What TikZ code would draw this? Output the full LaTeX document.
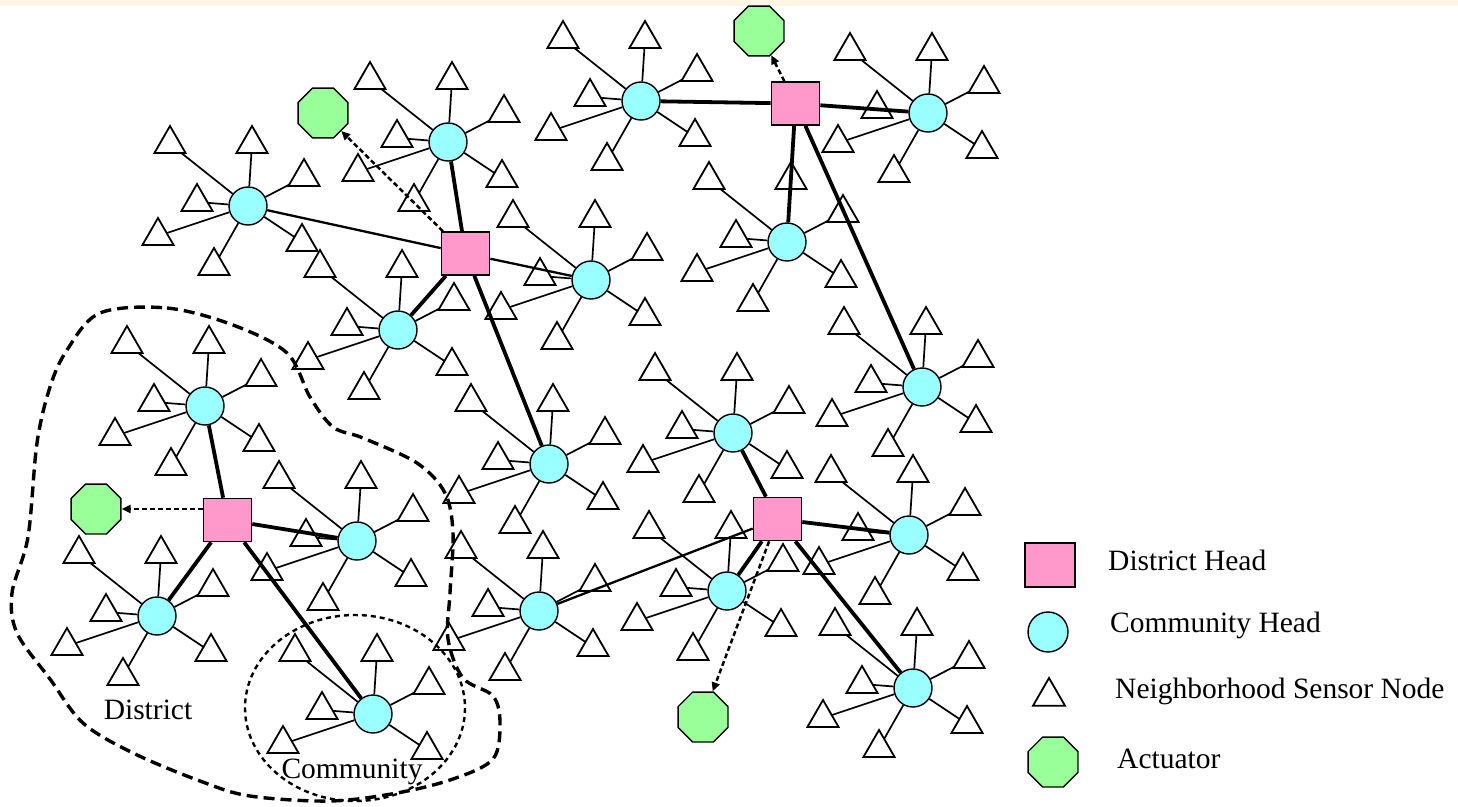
\documentclass[tikz,border=0pt]{standalone}
\usepackage{fontspec}
\setmainfont{Liberation Serif}
\usetikzlibrary{shapes.geometric,arrows.meta,calc}
\definecolor{dhfill}{RGB}{255,153,204}
\definecolor{chfill}{RGB}{153,255,255}
\definecolor{acfill}{RGB}{153,255,153}
\definecolor{bandcol}{RGB}{255,246,229}
\tikzset{
 sensor/.style={regular polygon, regular polygon sides=3, minimum size=36pt, inner sep=0pt, outer sep=0pt, draw, line width=1.8pt},
 chead/.style={circle, minimum size=38pt, inner sep=0pt, draw, line width=1.4pt, fill=chfill},
 dhead/.style={rectangle, minimum width=48pt, minimum height=43pt, inner sep=0pt, draw, line width=1.6pt, fill=dhfill},
 actu/.style={regular polygon, regular polygon sides=8, minimum size=54pt, inner sep=0pt, draw, line width=1.4pt, fill=acfill},
 slink/.style={line width=1.7pt},
 thicklink/.style={line width=3.8pt},
 medlink/.style={line width=2.3pt},
 actlink/.style={line width=2.5pt, dash pattern=on 5pt off 3pt, -{Triangle[length=9pt,width=8pt]}},
 lab/.style={font=\fontsize{29.5}{32}\selectfont, inner sep=0pt},
}
\def\fullpat{a/-78/-66,b/4/-66,c/56/-33,d/-51/-8,e/-90/26,f/-34/56,g/54/32}
\def\partpat{a/-78/-66,b/4/-66,c/56/-33,d/-51/-8,e/-90/26,g/54/32}
\newcommand{\mkcomm}[4]{%
  \node[chead] (#1) at (#2,#3) {};
  \foreach \sk/\sx/\sy in #4 {
    \node[sensor] (#1\sk) at ({#2+(\sx)},{#3+(\sy)+4}) {};
    \draw[slink] (#1) -- (#1\sk);
  }
}
\begin{document}
\begin{tikzpicture}[x=1pt,y=-1pt]
\fill[white] (0,0) rectangle (1458,806);
\useasboundingbox (0,0) rectangle (1458,806);
\fill[bandcol] (0,0) rectangle (1458,6);

% district boundary
\draw[line width=3.4pt, dash pattern=on 11pt off 6pt] plot[smooth cycle, tension=0.55] coordinates {
 (100,313) (167,308) (233,325) (287,353) (310,397) (333,427) (363,438) (417,463)
 (445,493) (453,533) (450,593) (448,639) (463,678) (493,696) (500,723) (493,759)
 (453,779) (397,793) (330,801) (250,796) (200,781) (133,753) (83,723) (50,679)
 (17,633) (12,593) (28,537) (37,443) (50,387) (67,350)};
% community boundary
\draw[line width=2.4pt, dash pattern=on 5pt off 4pt] (355,708) ellipse [x radius=110, y radius=93];

% communities
\mkcomm{c1}{448}{142}{\fullpat}
\mkcomm{c2}{248}{206}{\fullpat}
\mkcomm{c3}{641}{101}{\fullpat}
\mkcomm{c4}{928}{113}{\fullpat}
\mkcomm{c5}{787}{242}{\fullpat}
\mkcomm{c6}{591}{280}{\fullpat}
\mkcomm{c7}{398}{330}{\fullpat}
\mkcomm{c8}{205}{406}{\fullpat}
\mkcomm{c9}{922}{387}{\fullpat}
\mkcomm{c10}{733}{433}{\fullpat}
\mkcomm{c11}{549}{464}{\fullpat}
\mkcomm{c12}{357}{541}{\fullpat}
\mkcomm{c13}{909}{535}{\fullpat}
\mkcomm{c14}{157}{616}{\fullpat}
\mkcomm{c15}{539}{611}{\fullpat}
\mkcomm{c16}{727}{591}{\fullpat}
\mkcomm{c17}{373}{714}{\partpat}
\mkcomm{c18}{913}{688}{\fullpat}

% district heads
\node[dhead] (dA) at (465.5,253.5) {};
\node[dhead] (dB) at (795.5,103.5) {};
\node[dhead] (dC) at (227.5,520) {};
\node[dhead] (dD) at (777.5,519) {};

% actuators
\node[actu] (act1) at (323,113) {};
\node[actu] (act2) at (759,31) {};
\node[actu] (act3) at (96,509) {};
\node[actu] (act4) at (703,717) {};

% district-community links
\draw[thicklink] (dA) -- (c1);
\draw[thicklink] (dA) -- (c7);
\draw[thicklink] (dA) -- (c11);
\draw[medlink] (dA) -- (c2);
\draw[medlink] (dA) -- (c6);
\draw[thicklink] (dB) -- (c3);
\draw[thicklink] (dB) -- (c4);
\draw[thicklink] (dB) -- (c5);
\draw[thicklink] (dB) -- (c9);
\draw[thicklink] (dC) -- (c8);
\draw[thicklink] (dC) -- (c12);
\draw[thicklink] (dC) -- (c14);
\draw[thicklink] (dC) -- (c17);
\draw[thicklink] (dD) -- (c10);
\draw[thicklink] (dD) -- (c13);
\draw[thicklink] (dD) -- (c16);
\draw[thicklink] (dD) -- (c18);
\draw[medlink] (dD) -- (c15);

% actuator links
\draw[actlink] (dA) -- (act1);
\draw[actlink] (dB) -- (act2);
\draw[actlink] (dC.west |- act3) -- (act3);
\draw[actlink] (dD) -- (act4);

% labels
\node[lab, anchor=base] (tdist) at (148,719) {District};
\node[lab, anchor=base] (tcomm) at (352,778) {Community};

% legend
\node[dhead, minimum width=50pt, minimum height=44pt] (lsq) at (1050,565) {};
\node[chead, minimum size=40pt] (lci) at (1048,632) {};
\node[sensor, minimum size=37pt] (ltr) at (1049,696.5) {};
\node[actu] (loc) at (1053,762) {};
\node[lab, anchor=base west] (l1) at (1108,570) {District Head};
\node[lab, anchor=base west] (l2) at (1110,632) {Community Head};
\node[lab, anchor=base west] (l3) at (1115,698) {Neighborhood Sensor Node};
\node[lab, anchor=base west] (l4) at (1117,768) {Actuator};
\end{tikzpicture}
\end{document}
